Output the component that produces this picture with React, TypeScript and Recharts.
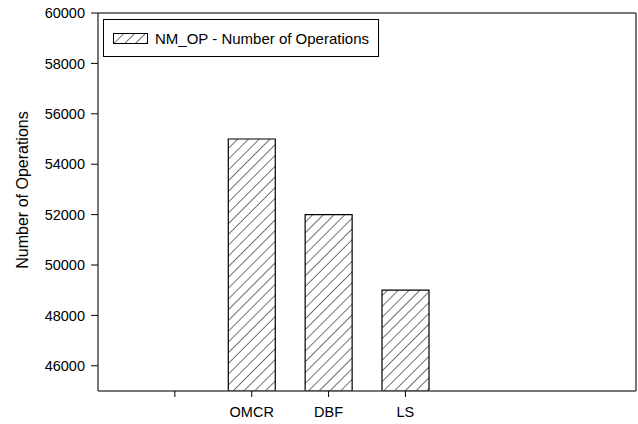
import {
  BarChart,
  Bar,
  XAxis,
  YAxis,
  Legend,
  ReferenceLine,
} from 'recharts'

const categories = ['', 'OMCR', 'DBF', 'LS']
const operations: (number | null)[] = [null, 55000, 52000, 49000]
const yTicks = [46000, 48000, 50000, 52000, 54000, 56000, 58000, 60000]
const seriesName = 'NM_OP - Number of Operations'
const yLabel = 'Number of Operations'

const FONT = '"Liberation Sans", Arial, sans-serif'
const AXIS = '#4a4a4a'

// category i sits at x = i + 1 on a 0..7 numeric axis
const data = categories.map((c, i) => ({ pos: i + 1, name: c, ops: operations[i] }))
const xTicks = data.map(d => d.pos)

const Hatch = ({ id }: { id: string }) => (
  <pattern id={id} patternUnits="userSpaceOnUse" width={7.6} height={7.6} patternTransform="rotate(45)">
    <line x1={0} y1={0} x2={0} y2={7.6} stroke="#000" strokeWidth={1.1} />
  </pattern>
)

const LegendBox = () => (
  <div style={{
    border: '1px solid #000', background: '#fff', width: 274, height: 36,
    display: 'flex', alignItems: 'center', fontFamily: FONT, fontSize: 15, color: '#000',
  }}>
    <svg width={35} height={11} style={{ marginLeft: 9, marginRight: 7 }}>
      <defs><Hatch id="hatchLegend" /></defs>
      <rect x={0.5} y={0.5} width={34} height={10} fill="url(#hatchLegend)" stroke="#000" strokeWidth={1} />
    </svg>
    <span>{seriesName}</span>
  </div>
)

const YLabel = ({ viewBox }: any) => {
  const { x, y, height } = viewBox
  const cx = x + 22
  const cy = y + height / 2 - 12
  return (
    <text
      x={cx}
      y={cy}
      transform={`rotate(-90, ${cx}, ${cy})`}
      textAnchor="middle"
      dominantBaseline="central"
      fontFamily={FONT}
      fontSize={16}
      fill="#000"
    >
      {yLabel}
    </text>
  )
}

export default function App() {
  return (
    <div style={{ position: 'absolute', left: 0, top: 0, background: '#fff' }}>
      <BarChart width={638} height={424} data={data} margin={{ top: 13, right: 2, bottom: 0, left: 0 }}>
        <defs><Hatch id="hatchBar" /></defs>
        <XAxis
          dataKey="pos"
          type="number"
          domain={[0, 7]}
          ticks={xTicks}
          tickFormatter={(v: number) => categories[v - 1] ?? ''}
          tick={{ fill: '#000', fontSize: 14.5, fontFamily: FONT }}
          tickSize={6}
          tickMargin={10}
          tickLine={{ stroke: '#000' }}
          axisLine={{ stroke: AXIS, strokeWidth: 1.5 }}
          height={33}
        />
        <YAxis
          domain={[45000, 60000]}
          ticks={yTicks}
          allowDataOverflow
          tick={{ fill: '#000', fontSize: 14.5, fontFamily: FONT }}
          tickSize={7}
          tickMargin={6}
          tickLine={{ stroke: '#000' }}
          axisLine={{ stroke: AXIS, strokeWidth: 1.5 }}
          width={98}
          label={<YLabel />}
        />
        <ReferenceLine y={60000} stroke={AXIS} strokeWidth={1.5} />
        <ReferenceLine x={7} stroke={AXIS} strokeWidth={1.5} />
        <Legend
          layout="vertical"
          align="center"
          verticalAlign="middle"
          content={<LegendBox />}
          wrapperStyle={{ left: 103, top: 19, width: 'auto' }}
        />
        <Bar
          dataKey="ops"
          name={seriesName}
          fill="url(#hatchBar)"
          stroke="#000"
          strokeWidth={1.2}
          barSize={47}
          isAnimationActive={false}
        />
      </BarChart>
    </div>
  )
}
